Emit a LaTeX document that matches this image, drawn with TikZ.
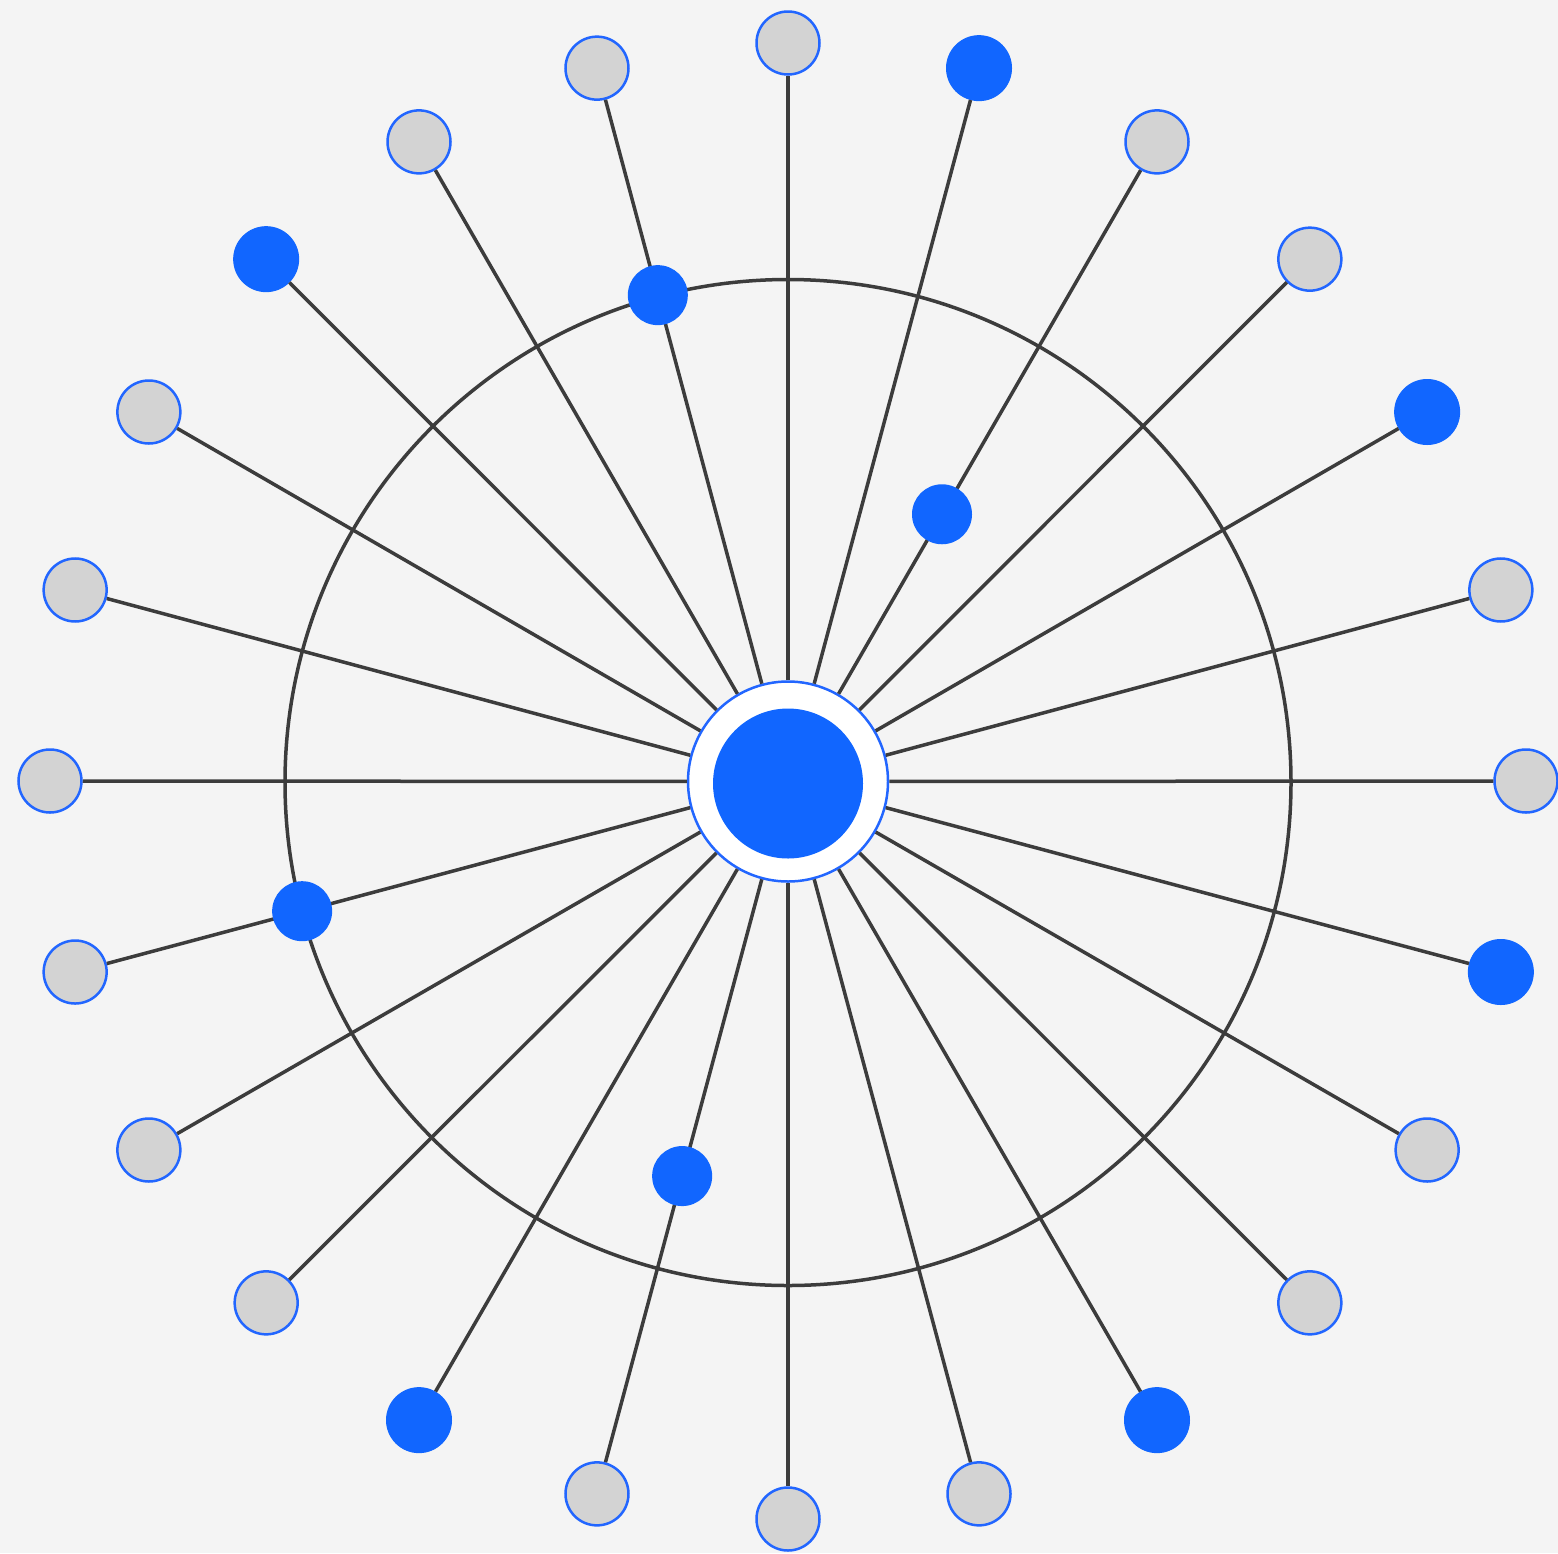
\documentclass[tikz,border=0pt]{standalone}
\usetikzlibrary{calc}
\definecolor{bg}{HTML}{F4F4F4}
\definecolor{hubblue}{HTML}{1166FF}
\definecolor{rimblue}{HTML}{2266FF}
\definecolor{nodegray}{HTML}{D3D3D3}
\definecolor{spoke}{HTML}{3C3C3C}
\tikzset{
  graynode/.style={circle, draw=rimblue, line width=2.5pt, fill=nodegray, minimum size=63pt, inner sep=0pt},
  bluenode/.style={circle, draw=hubblue, line width=1pt, fill=hubblue, minimum size=65pt, inner sep=0pt},
  dotnode/.style={circle, fill=hubblue, minimum size=60pt, inner sep=0pt},
  hubnode/.style={circle, draw=rimblue, line width=2.5pt, fill=white, minimum size=200pt, inner sep=0pt},
  hubcore/.style={circle, fill=hubblue, minimum size=150pt, inner sep=0pt},
  spokeline/.style={draw=spoke, line width=3.5pt},
}
\begin{document}
\begin{tikzpicture}[x=1pt,y=-1pt]
\fill[bg] (0,0) rectangle (1558,1553);
\useasboundingbox (0,0) rectangle (1558,1553);
\coordinate (ctr) at (788,781);
% ring
\draw[spokeline] (788,782.5) circle[radius=503];
% hub
\node[hubnode] (c) at (788,781.5) {};
% outer nodes (angle measured counter-clockwise from east)
\foreach \i in {0,...,23}{
  \pgfmathsetmacro{\ang}{15*\i}
  \pgfmathtruncatemacro{\a}{15*\i}
  \ifnum\a=30 \def\sty{bluenode}\else
  \ifnum\a=75 \def\sty{bluenode}\else
  \ifnum\a=135 \def\sty{bluenode}\else
  \ifnum\a=240 \def\sty{bluenode}\else
  \ifnum\a=300 \def\sty{bluenode}\else
  \ifnum\a=345 \def\sty{bluenode}\else
  \def\sty{graynode}\fi\fi\fi\fi\fi\fi
  \node[\sty] (o\i) at ($(ctr)+({738*cos(\ang)},{-738*sin(\ang)})$) {};
}
% spokes
\foreach \i in {0,...,23}{
  \draw[spokeline] (c) -- (o\i);
}
\node[hubcore] (core) at (788,783.5) {};
% inner dots
\node[dotnode] (d1) at ($(ctr)+({503*cos(105)},{-503*sin(105)})$) {};
\node[dotnode] (d2) at ($(ctr)+({308*cos(60)},{-308*sin(60)})$) {};
\node[dotnode] (d3) at ($(ctr)+({503*cos(195)},{-503*sin(195)})$) {};
\node[dotnode] (d4) at ($(ctr)+({409*cos(255)},{-409*sin(255)})$) {};
\end{tikzpicture}
\end{document}
